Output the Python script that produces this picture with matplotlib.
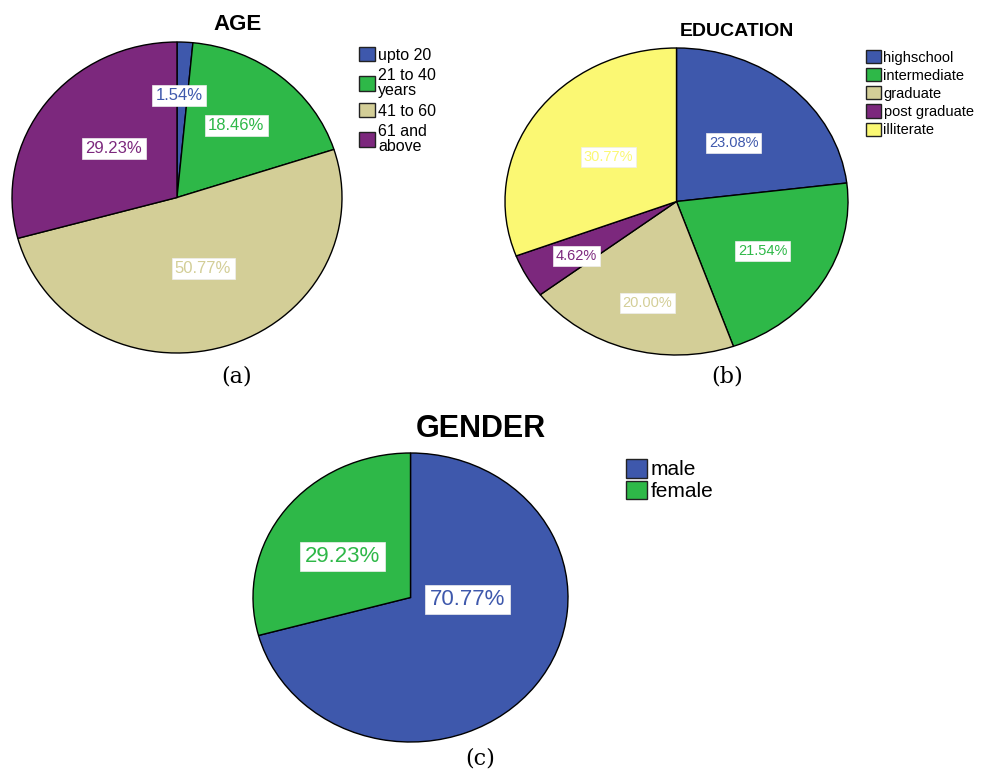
import matplotlib
matplotlib.use("Agg")
import matplotlib.pyplot as plt

# colours used by all three pies
BLUE = '#3e58ac'
GREEN = '#2eb848'
BEIGE = '#d3ce97'
PURPLE = '#7c287d'
YELLOW = '#fbf873'

# data
age_labels = ['upto 20', '21 to 40\nyears', '41 to 60', '61 and\nabove']
age_values = [1.54, 18.46, 50.77, 29.23]
age_colors = [BLUE, GREEN, BEIGE, PURPLE]

edu_labels = ['highschool', 'intermediate', 'graduate', 'post graduate', 'illiterate']
edu_values = [23.08, 21.54, 20.00, 4.62, 30.77]
edu_colors = [BLUE, GREEN, BEIGE, PURPLE, YELLOW]

gen_labels = ['male', 'female']
gen_values = [70.77, 29.23]
gen_colors = [BLUE, GREEN]

# where the % boxes sit, in pie radius units
age_pos = [(0.012, 0.656), (0.358, 0.463), (0.158, -0.457), (-0.382, 0.315)]
edu_pos = [(0.333, 0.379), (0.503, -0.32), (-0.17, -0.66), (-0.585, -0.353), (-0.398, 0.288)]
gen_pos = [(0.362, -0.014), (-0.432, 0.284)]

W, H = 983, 769
fig = plt.figure(figsize=(W / 100, H / 100), dpi=100)
fig.patch.set_facecolor('white')


def px_axes(x0, y0, x1, y1):
    # axes from pixel box (top-left origin)
    return fig.add_axes([x0 / W, 1 - y1 / H, (x1 - x0) / W, (y1 - y0) / H])


def draw_pie(ax, values, colors, pos, pct_size):
    wedges, _ = ax.pie(values, colors=colors, startangle=90, counterclock=False,
                       wedgeprops=dict(edgecolor='black', linewidth=1.0))
    for w in wedges:
        w.set_clip_on(False)
    ax.set_aspect('auto')
    ax.set_xlim(-1, 1)
    ax.set_ylim(-1, 1)
    ax.axis('off')
    for v, c, (x, y) in zip(values, colors, pos):
        ax.text(x, y, '%.2f%%' % v, ha='center', va='center', color=c,
                fontsize=pct_size, family='Liberation Sans',
                bbox=dict(boxstyle='square,pad=0.2', facecolor='white', edgecolor='#eeeeee', linewidth=0.5))
    return wedges


def add_legend(ax, wedges, labels, x, y, size, spacing, hl, hh, lsp=1.0):
    leg = ax.legend(wedges, labels, loc='upper left', bbox_to_anchor=(x / W, 1 - y / H),
                    bbox_transform=fig.transFigure, frameon=False,
                    prop={'family': 'Liberation Sans', 'size': size},
                    handlelength=hl, handleheight=hh, handletextpad=0.2,
                    labelspacing=spacing, borderpad=0, borderaxespad=0)
    for t in leg.get_texts():
        t.set_linespacing(lsp)
    for p in leg.get_patches():
        p.set_edgecolor('#222222')
        p.set_linewidth(1.0)
    return leg


# (a) AGE
ax_a = px_axes(12, 42, 342, 353)
w_a = draw_pie(ax_a, age_values, age_colors, age_pos, 12)
add_legend(ax_a, w_a, age_labels, 359, 47, 11.5, 0.35, 1.0, 1.0, lsp=0.95)
fig.text(238 / W, 1 - 24 / H, 'AGE', ha='center', va='center', fontsize=16,
         fontweight='bold', family='Liberation Sans')
fig.text(237 / W, 1 - 376 / H, '(a)', ha='center', va='center', fontsize=16, family='DejaVu Serif')

# (b) EDUCATION
ax_b = px_axes(505, 48, 848, 355)
w_b = draw_pie(ax_b, edu_values, edu_colors, edu_pos, 10.5)
add_legend(ax_b, w_b, edu_labels, 866, 50, 10.5, 0.25, 1.0, 1.0)
fig.text(737 / W, 1 - 32 / H, 'EDUCATION', ha='center', va='center', fontsize=14,
         fontweight='bold', family='Liberation Sans')
fig.text(727 / W, 1 - 376 / H, '(b)', ha='center', va='center', fontsize=16, family='DejaVu Serif')

# (c) GENDER
ax_c = px_axes(253, 453, 568, 742)
w_c = draw_pie(ax_c, gen_values, gen_colors, gen_pos, 16)
add_legend(ax_c, w_c, gen_labels, 626, 459, 15, 0.05, 1.0, 1.0)
fig.text(481 / W, 1 - 429 / H, 'GENDER', ha='center', va='center', fontsize=22,
         fontweight='bold', family='Liberation Sans')
fig.text(480 / W, 1 - 758 / H, '(c)', ha='center', va='center', fontsize=16, family='DejaVu Serif')

fig.savefig('out.png', dpi=100, facecolor='white')
